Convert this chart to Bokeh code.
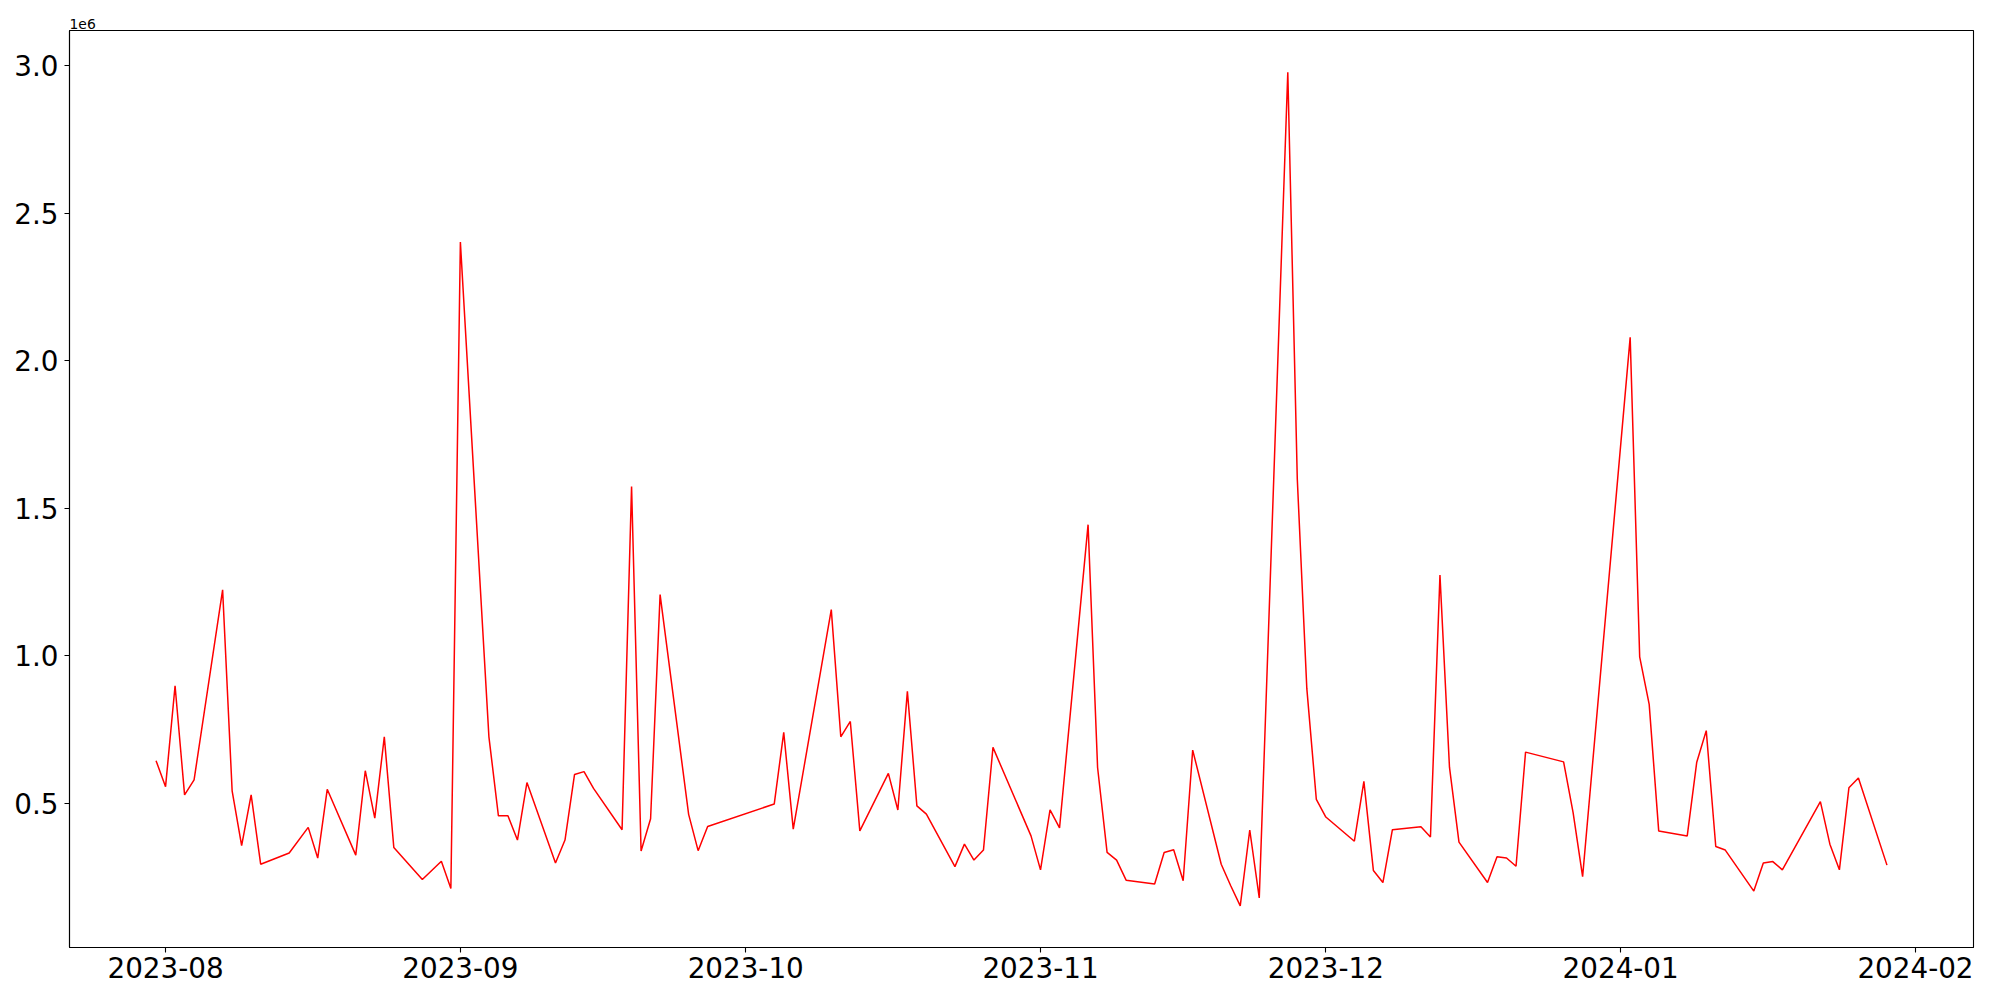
import pandas as pd
from bokeh.plotting import figure
from bokeh.models import Range1d, FixedTicker
from bokeh.embed import file_html
from bokeh.resources import INLINE

dates = [
    "2023-07-31", "2023-08-01", "2023-08-02", "2023-08-03", "2023-08-04",
    "2023-08-07", "2023-08-08", "2023-08-09", "2023-08-10", "2023-08-11",
    "2023-08-14", "2023-08-16", "2023-08-17", "2023-08-18",
    "2023-08-21", "2023-08-22", "2023-08-23", "2023-08-24", "2023-08-25",
    "2023-08-28", "2023-08-30", "2023-08-31", "2023-09-01",
    "2023-09-04", "2023-09-05", "2023-09-06", "2023-09-07", "2023-09-08",
    "2023-09-11", "2023-09-12", "2023-09-13", "2023-09-14", "2023-09-15",
    "2023-09-18", "2023-09-19", "2023-09-20", "2023-09-21", "2023-09-22",
    "2023-09-25", "2023-09-26", "2023-09-27",
    "2023-10-04", "2023-10-05", "2023-10-06",
    "2023-10-10", "2023-10-11", "2023-10-12", "2023-10-13",
    "2023-10-16", "2023-10-17", "2023-10-18", "2023-10-19", "2023-10-20",
    "2023-10-23", "2023-10-24", "2023-10-25", "2023-10-26", "2023-10-27",
    "2023-10-31", "2023-11-01", "2023-11-02", "2023-11-03",
    "2023-11-06", "2023-11-07", "2023-11-08", "2023-11-09", "2023-11-10",
    "2023-11-13", "2023-11-14", "2023-11-15", "2023-11-16", "2023-11-17",
    "2023-11-20", "2023-11-21", "2023-11-22", "2023-11-23", "2023-11-24",
    "2023-11-27", "2023-11-28", "2023-11-29", "2023-11-30", "2023-12-01",
    "2023-12-04", "2023-12-05", "2023-12-06", "2023-12-07", "2023-12-08",
    "2023-12-11", "2023-12-12", "2023-12-13", "2023-12-14", "2023-12-15",
    "2023-12-18", "2023-12-19", "2023-12-20", "2023-12-21", "2023-12-22",
    "2023-12-26", "2023-12-27", "2023-12-28",
    "2024-01-02", "2024-01-03", "2024-01-04", "2024-01-05",
    "2024-01-08", "2024-01-09", "2024-01-10", "2024-01-11", "2024-01-12",
    "2024-01-15", "2024-01-16", "2024-01-17", "2024-01-18",
    "2024-01-22", "2024-01-23", "2024-01-24", "2024-01-25", "2024-01-26",
    "2024-01-29",
]

volume = [
    645000, 557000, 899000, 529000, 580000,
    1224000, 543000, 357000, 529000, 294000,
    332000, 419000, 315000, 548000,
    325000, 611000, 450000, 726000, 351000,
    242000, 304000, 212000, 2403000,
    726000, 458000, 458000, 376000, 571000,
    298000, 376000, 598000, 608000, 551000,
    411000, 1574000, 339000, 448000, 1208000,
    463000, 340000, 422000,
    498000, 741000, 413000,
    1157000, 726000, 778000, 407000,
    602000, 478000, 880000, 492000, 464000,
    286000, 362000, 308000, 342000, 690000,
    390000, 275000, 478000, 417000,
    1445000, 622000, 334000, 308000, 240000,
    227000, 334000, 343000, 238000, 681000,
    294000, 221000, 153000, 410000, 180000,
    2979000, 1599000, 890000, 514000, 454000,
    372000, 575000, 273000, 232000, 411000,
    421000, 386000, 1274000, 623000, 369000,
    232000, 319000, 315000, 287000, 674000,
    641000, 469000, 252000,
    2080000, 997000, 836000, 407000,
    390000, 640000, 747000, 354000, 342000,
    203000, 298000, 303000, 275000,
    506000, 362000, 275000, 553000, 586000,
    291000,
]

x_tick_labels = ["2023-08", "2023-09", "2023-10", "2023-11", "2023-12", "2024-01", "2024-02"]
y_ticks = [500000, 1000000, 1500000, 2000000, 2500000, 3000000]
y_tick_labels = ["0.5", "1.0", "1.5", "2.0", "2.5", "3.0"]
offset_text = "1e6"

x = pd.to_datetime(dates)
xmin, xmax = x.min(), x.max()
xpad = (xmax - xmin) * 0.05
ymin, ymax = min(volume), max(volume)
ypad = (ymax - ymin) * 0.05

p = figure(
    width=1992, height=992,
    x_axis_type="datetime",
    output_backend="svg", toolbar_location=None,
    x_range=Range1d(start=xmin - xpad, end=xmax + xpad),
    y_range=Range1d(start=ymin - ypad, end=ymax + ypad),
    min_border_left=69, min_border_right=19,
    min_border_top=30, min_border_bottom=45,
)

p.line(x, volume, line_color="red", line_width=1.5)

FONT = "DejaVu Sans"
p.title.text = offset_text
p.title.text_font = FONT
p.title.text_font_size = "13.9px"
p.title.text_font_style = "normal"
p.title.text_color = "black"
p.title.align = "left"
p.title.offset = 0
p.title.standoff = 3

p.xgrid.visible = False
p.ygrid.visible = False
p.outline_line_color = "black"
p.outline_line_width = 1.1
p.outline_line_alpha = 1.0
p.background_fill_color = "white"
p.border_fill_color = "white"

tick_ms = [int(pd.Timestamp(t + "-01").value // 10**6) for t in x_tick_labels]
p.xaxis.ticker = FixedTicker(ticks=tick_ms)
p.xaxis.major_label_overrides = {ms: lab for ms, lab in zip(tick_ms, x_tick_labels)}
p.yaxis.ticker = FixedTicker(ticks=y_ticks)
p.yaxis.major_label_overrides = {t: lab for t, lab in zip(y_ticks, y_tick_labels)}

for ax in (p.xaxis[0], p.yaxis[0]):
    ax.axis_line_color = "black"
    ax.axis_line_width = 1.1
    ax.major_tick_line_color = "black"
    ax.major_tick_line_width = 1.1
    ax.major_tick_out = 5
    ax.major_tick_in = 0
    ax.minor_tick_line_color = None
    ax.major_label_text_font = FONT
    ax.major_label_text_font_size = "27.8px"
    ax.major_label_text_color = "black"
p.xaxis.major_label_standoff = 4
p.yaxis.major_label_standoff = 6

open("out.html", "w").write(file_html(p, INLINE))
